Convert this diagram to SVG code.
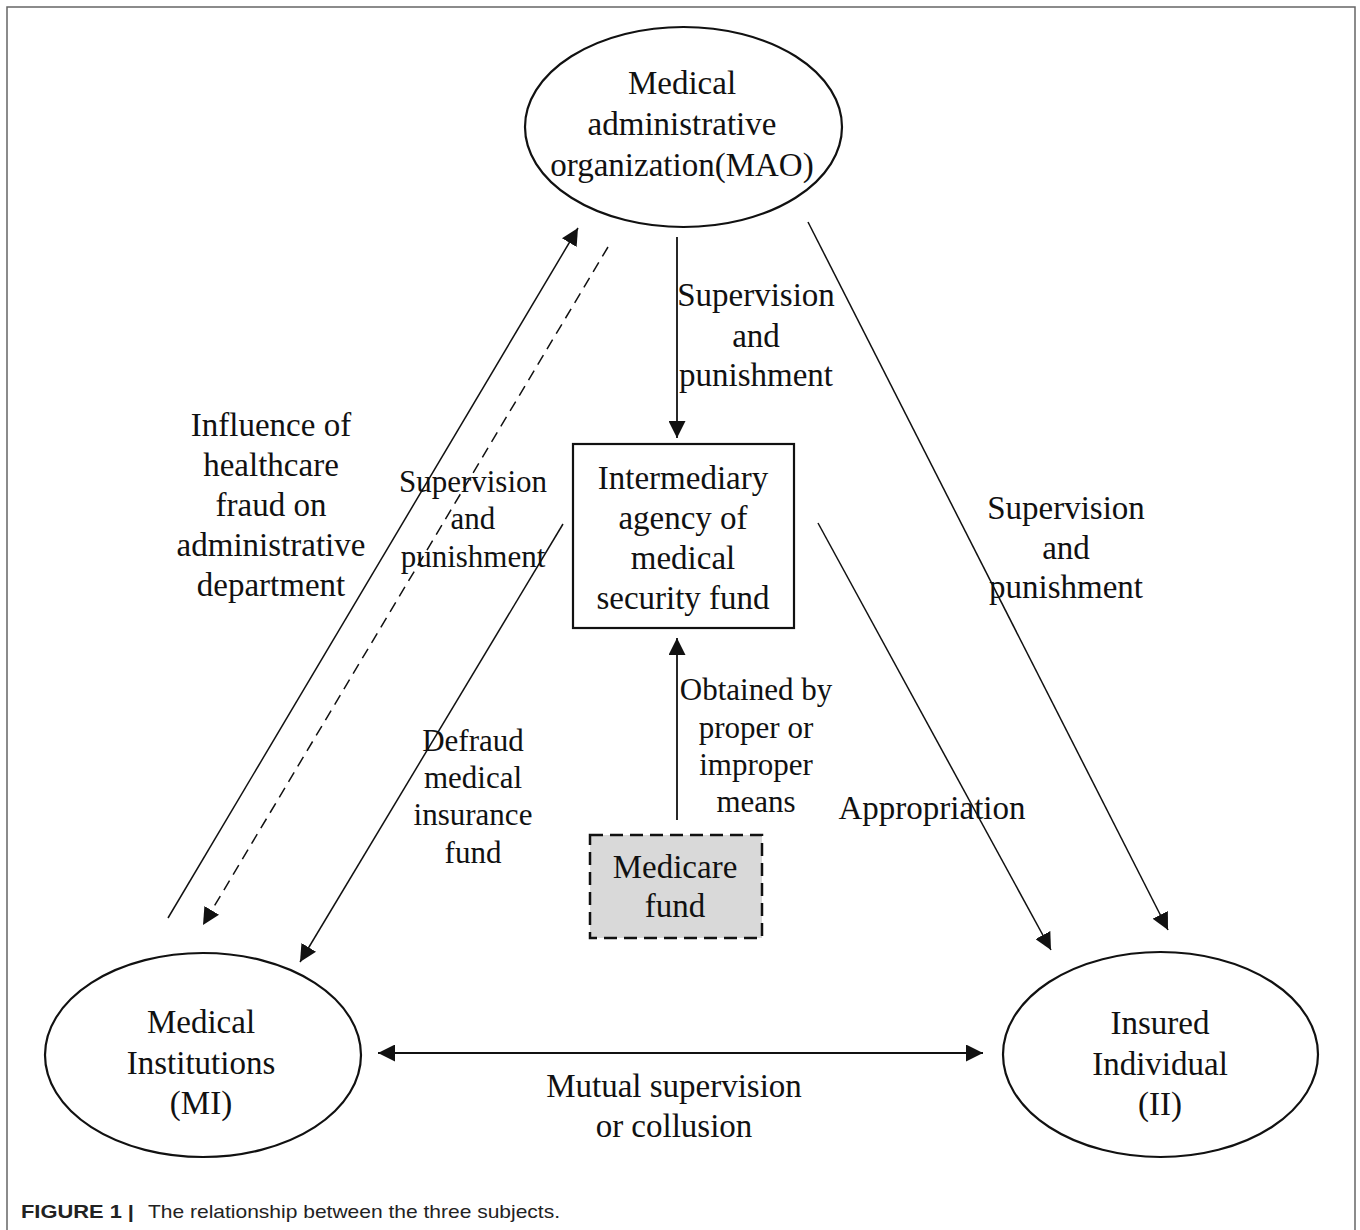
<svg xmlns="http://www.w3.org/2000/svg" width="1360" height="1230" viewBox="0 0 1360 1230">
<style>
  .lbl { font-family: "Liberation Serif", "Times New Roman", serif; font-size: 33px; fill: #111; text-anchor: middle; }
  .sm { font-size: 31px; }
  .node { fill: #fff; stroke: #111; stroke-width: 2.2; }
  .con { stroke: #111; stroke-width: 1.5; fill: none; }
  .cap { font-family: "Liberation Sans", Arial, sans-serif; font-size: 19px; fill: #222; }
</style>
<defs>
  <marker id="ah" markerUnits="userSpaceOnUse" markerWidth="17" markerHeight="17" viewBox="0 0 16 16" refX="16" refY="8" orient="auto-start-reverse">
    <path d="M0,0 L16,8 L0,16 z" fill="#111"/>
  </marker>
</defs>
<rect width="1360" height="1230" fill="#fff"/>
<path d="M7,1230 V7 H1355 V1230" fill="none" stroke="#666" stroke-width="1.5"/>

<g id="connectors">
  <line class="con" x1="677" y1="237" x2="677" y2="438" marker-end="url(#ah)" style="stroke-width:1.8"/>
  <line class="con" x1="677" y1="820" x2="677" y2="638" marker-end="url(#ah)" style="stroke-width:1.8"/>
  <line class="con" x1="168" y1="918" x2="578" y2="228" marker-end="url(#ah)"/>
  <line class="con" x1="608" y1="247" x2="203" y2="925" stroke-dasharray="11 7" marker-end="url(#ah)"/>
  <line class="con" x1="563" y1="524" x2="300" y2="962" marker-end="url(#ah)"/>
  <line class="con" x1="818" y1="523" x2="1051" y2="950" marker-end="url(#ah)"/>
  <line class="con" x1="808" y1="222" x2="1168" y2="930" marker-end="url(#ah)"/>
  <line class="con" x1="378" y1="1053" x2="983" y2="1053" marker-start="url(#ah)" marker-end="url(#ah)" style="stroke-width:2"/>
</g>

<g id="mao">
  <ellipse class="node" cx="683.5" cy="127" rx="158.5" ry="100"/>
  <text class="lbl" x="682" y="94">Medical</text>
  <text class="lbl" x="682" y="135">administrative</text>
  <text class="lbl" x="682" y="176">organization(MAO)</text>
</g>

<g id="intermediary">
  <rect class="node" x="573" y="444" width="221" height="184"/>
  <text class="lbl" x="683" y="489">Intermediary</text>
  <text class="lbl" x="683" y="529">agency of</text>
  <text class="lbl" x="683" y="569">medical</text>
  <text class="lbl" x="683" y="609">security fund</text>
</g>

<g id="medicare">
  <rect x="590" y="835" width="172" height="103" fill="#d9d9d9" stroke="#111" stroke-width="2.5" stroke-dasharray="13 7"/>
  <text class="lbl" x="675" y="878">Medicare</text>
  <text class="lbl" x="675" y="917">fund</text>
</g>

<g id="mi">
  <ellipse class="node" cx="203" cy="1055" rx="158" ry="102"/>
  <text class="lbl" x="201" y="1033">Medical</text>
  <text class="lbl" x="201" y="1074">Institutions</text>
  <text class="lbl" x="201" y="1114">(MI)</text>
</g>

<g id="ii">
  <ellipse class="node" cx="1160.5" cy="1054.5" rx="157.5" ry="102.5"/>
  <text class="lbl" x="1160" y="1034">Insured</text>
  <text class="lbl" x="1160" y="1075">Individual</text>
  <text class="lbl" x="1160" y="1115">(II)</text>
</g>

<g id="labels">
  <text class="lbl" x="756" y="306">Supervision</text>
  <text class="lbl" x="756" y="347">and</text>
  <text class="lbl" x="756" y="386">punishment</text>

  <text class="lbl" x="271" y="436">Influence of</text>
  <text class="lbl" x="271" y="476">healthcare</text>
  <text class="lbl" x="271" y="516">fraud on</text>
  <text class="lbl" x="271" y="556">administrative</text>
  <text class="lbl" x="271" y="596">department</text>

  <text class="lbl sm" x="473" y="492">Supervision</text>
  <text class="lbl sm" x="473" y="529">and</text>
  <text class="lbl sm" x="473" y="567">punishment</text>

  <text class="lbl" x="1066" y="519">Supervision</text>
  <text class="lbl" x="1066" y="559">and</text>
  <text class="lbl" x="1066" y="598">punishment</text>

  <text class="lbl sm" x="756" y="700">Obtained by</text>
  <text class="lbl sm" x="756" y="738">proper or</text>
  <text class="lbl sm" x="756" y="775">improper</text>
  <text class="lbl sm" x="756" y="812">means</text>

  <text class="lbl sm" x="473" y="751">Defraud</text>
  <text class="lbl sm" x="473" y="788">medical</text>
  <text class="lbl sm" x="473" y="825">insurance</text>
  <text class="lbl sm" x="473" y="863">fund</text>

  <text class="lbl" x="932" y="819">Appropriation</text>

  <text class="lbl" x="674" y="1097">Mutual supervision</text>
  <text class="lbl" x="674" y="1137">or collusion</text>
</g>

<text class="cap" x="21" y="1218" font-weight="bold" textLength="113" lengthAdjust="spacingAndGlyphs">FIGURE 1 |</text>
<text class="cap" x="148" y="1218" textLength="412" lengthAdjust="spacingAndGlyphs">The relationship between the three subjects.</text>
</svg>
